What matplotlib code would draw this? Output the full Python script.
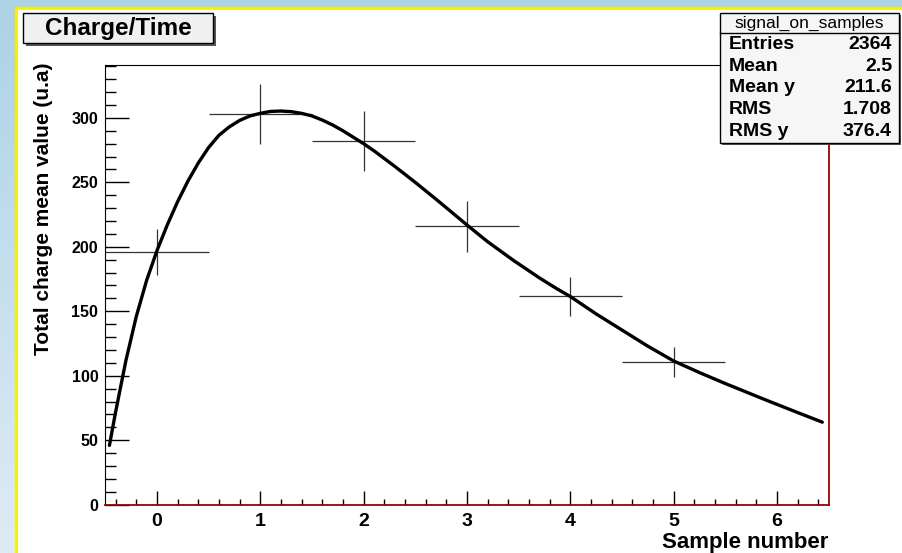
# Charge/Time profile with pulse-shape fit, ROOT-style canvas

import numpy as np
import matplotlib
matplotlib.use("Agg")
import matplotlib.pyplot as plt
from matplotlib.patches import Rectangle
from matplotlib.ticker import MultipleLocator

plt.rcParams['font.family'] = ['Liberation Sans', 'DejaVu Sans']

# Data
sample = [0, 1, 2, 3, 4, 5]
charge_mean = [196, 303, 282, 216, 161.5, 111]
charge_err = [17.7, 23, 23.3, 19.7, 15.1, 11.6]
sample_err = [0.5, 0.5, 0.5, 0.5, 0.5, 0.5]

# fit curve, read point by point
fit_x = [-0.46, -0.4, -0.36, -0.3, -0.2, -0.1, 0.0, 0.1, 0.2, 0.3, 0.4, 0.5,
         0.6, 0.7, 0.8, 0.9, 1.0, 1.1, 1.2, 1.3, 1.4, 1.5, 1.6, 1.7, 1.8,
         1.9, 2.0, 2.1, 2.2, 2.3, 2.5, 2.7, 2.85, 3.0, 3.2, 3.45, 3.7, 3.87,
         4.0, 4.25, 4.5, 4.75, 5.0, 5.25, 5.5, 5.7, 5.9, 6.2, 6.44]
fit_y = [46, 72, 88, 112, 146, 174, 197, 217, 235, 251, 265, 277,
         286.5, 293, 298, 301.5, 303.5, 305, 305.3, 304.8, 303.5, 301.5, 298.3, 294.5, 290,
         285, 280, 274.5, 268.5, 262.5, 250, 237, 227, 217, 204, 189.5, 176, 167.5,
         161.5, 148, 135.5, 123, 111.5, 102.5, 94, 87.5, 81, 71.5, 64]

stat_title = "signal_on_samples"
stat_names = ["Entries", "Mean", "Mean y", "RMS", "RMS y"]
stat_values = ["2364", "2.5", "211.6", "1.708", "376.4"]

W, H = 902, 553
fig = plt.figure(figsize=(W / 100, H / 100), dpi=100)

# background (slide gradient + white canvas with yellow border)
bg = fig.add_axes([0, 0, 1, 1], zorder=0)
bg.set_xlim(0, W)
bg.set_ylim(H, 0)
bg.axis('off')
grad = np.linspace(0, 1, 256).reshape(-1, 1)
top_col = np.array([172, 210, 230]) / 255
bot_col = np.array([222, 235, 246]) / 255
img = top_col * (1 - grad[..., None]) + bot_col * grad[..., None]
bg.imshow(img, extent=[0, W, H, 0], aspect='auto')
bg.add_patch(Rectangle((16, 8), W, H, facecolor='white',
                       edgecolor='#f8f000', linewidth=2))

# main plot
ax = fig.add_axes([105.3 / W, 1 - 504.7 / H, 723.2 / W, 439.7 / H], zorder=1)
ax.set_facecolor('none')
ax.errorbar(sample, charge_mean, xerr=sample_err, yerr=charge_err,
            fmt='none', ecolor='#333333', elinewidth=0.9, capsize=0)
ax.plot(fit_x, fit_y, color='black', linewidth=2.4, solid_joinstyle='round',
        solid_capstyle='round')

ax.set_xlim(-0.5, 6.5)
ax.set_ylim(0, 341)
ax.xaxis.set_major_locator(MultipleLocator(1))
ax.xaxis.set_minor_locator(MultipleLocator(0.2))
ax.yaxis.set_major_locator(MultipleLocator(50))
ax.yaxis.set_minor_locator(MultipleLocator(10))
ax.tick_params(axis='x', which='major', direction='in', length=10, width=1,
               labelsize=14, pad=6, top=False)
ax.tick_params(axis='x', which='minor', direction='in', length=4, width=1,
               top=False)
ax.tick_params(axis='y', which='major', direction='in', length=17, width=1,
               labelsize=11.5, pad=5, right=False)
ax.tick_params(axis='y', which='minor', direction='in', length=8, width=1,
               right=False)
for lab in ax.get_xticklabels() + ax.get_yticklabels():
    lab.set_fontweight('bold')
ax.spines['bottom'].set_color('#9a0000')
ax.spines['right'].set_color('#9a0000')
ax.spines['bottom'].set_linewidth(1.3)
ax.spines['right'].set_linewidth(1.3)

ax.set_xlabel("Sample number", fontsize=16, fontweight='bold', loc='right')
ax.xaxis.set_label_coords(1.0, -0.062)
ax.set_ylabel("Total charge mean value (u.a)", fontsize=15,
              fontweight='bold', loc='top')
ax.yaxis.set_label_coords(-0.072, 1.005)

# overlay: title box and stats box
ov = fig.add_axes([0, 0, 1, 1], zorder=2)
ov.set_xlim(0, W)
ov.set_ylim(H, 0)
ov.axis('off')
ov.patch.set_alpha(0)

ov.add_patch(Rectangle((26, 16), 190, 30, facecolor='#555555', edgecolor='none'))
ov.add_patch(Rectangle((23, 13), 190, 30, facecolor='#f0f0f0',
                       edgecolor='black', linewidth=1))
ov.text(118, 28.5, "Charge/Time", fontsize=17.5, fontweight='bold',
        ha='center', va='center')

ov.add_patch(Rectangle((722, 15), 179, 130, facecolor='#555555', edgecolor='none'))
ov.add_patch(Rectangle((720, 13), 179, 130, facecolor='#f6f6f6',
                       edgecolor='black', linewidth=1))
ov.plot([720, 899], [33, 33], color='black', linewidth=1)
ov.text(809.5, 23.5, stat_title, fontsize=12.5, ha='center', va='center')
row_y = [44.5, 66.5, 88, 110, 131.5]
for name, val, yy in zip(stat_names, stat_values, row_y):
    ov.text(729, yy, name, fontsize=14, fontweight='bold', ha='left', va='center')
    ov.text(892, yy, val, fontsize=14, fontweight='bold', ha='right', va='center')

fig.savefig("out.png", dpi=100)
